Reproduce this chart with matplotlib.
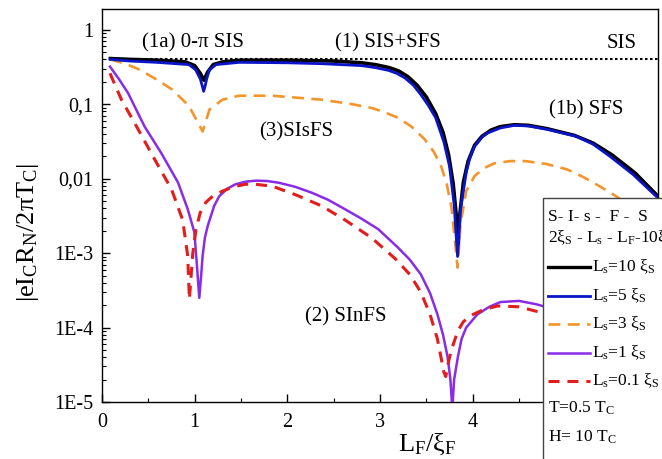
import matplotlib
matplotlib.use("Agg")
import matplotlib.pyplot as plt
from matplotlib.patches import Rectangle
from matplotlib.lines import Line2D
from matplotlib.ticker import FixedLocator, NullFormatter, LogLocator

plt.rcParams['font.family'] = ['Liberation Serif', 'DejaVu Serif']
plt.rcParams['mathtext.fontset'] = 'custom'
plt.rcParams['mathtext.rm'] = 'Liberation Serif'
plt.rcParams['mathtext.it'] = 'Liberation Serif:italic'

# ---------------- data ----------------
x_ls10 = [0.09, 0.3, 0.6, 0.9, 1.0, 1.06, 1.1, 1.14, 1.2, 1.3, 1.5, 2.0, 2.5, 2.8, 2.95, 3.1, 3.2, 3.3,
          3.4, 3.5, 3.6, 3.68, 3.74, 3.79, 3.82, 3.84, 3.86, 3.9, 3.95, 4.02, 4.1, 4.2, 4.3, 4.45, 4.6,
          4.8, 5.1, 5.3, 5.5, 5.75, 6.0]
y_ls10 = [0.41, 0.40, 0.39, 0.37, 0.33, 0.26, 0.21, 0.27, 0.34, 0.37, 0.39, 0.39, 0.38, 0.36, 0.34,
          0.31, 0.28, 0.235, 0.18, 0.125, 0.075, 0.042, 0.021, 0.0085, 0.0035, 0.001, 0.0032, 0.009,
          0.017, 0.028, 0.037, 0.045, 0.050, 0.053, 0.052, 0.047, 0.038, 0.030, 0.021, 0.012, 0.0058]

x_ls5 = [0.09, 0.3, 0.59, 0.94, 1.01, 1.06, 1.08, 1.097, 1.115, 1.13, 1.16, 1.23, 1.48, 2.0, 2.37,
         2.8, 2.95, 3.09, 3.18, 3.27, 3.36, 3.44, 3.52, 3.6, 3.69, 3.75, 3.8, 3.837, 3.87, 3.93, 3.97,
         4.02, 4.1, 4.16, 4.3, 4.45, 4.6, 4.8, 5.12, 5.3, 5.48, 5.73, 5.98]
y_ls5 = [0.40, 0.38, 0.365, 0.34, 0.29, 0.22, 0.18, 0.149, 0.18, 0.22, 0.29, 0.34, 0.365, 0.36, 0.35,
         0.33, 0.31, 0.285, 0.26, 0.225, 0.18, 0.135, 0.097, 0.066, 0.031, 0.0147, 0.0045, 0.0009,
         0.0039, 0.012, 0.019, 0.027, 0.036, 0.041, 0.048, 0.052, 0.051, 0.046, 0.037, 0.029, 0.020,
         0.0114, 0.0058]

x_ls3 = [0.09, 0.25, 0.41, 0.6, 0.76, 0.94, 1.086, 1.16, 1.30, 1.48, 1.84, 2.37, 2.7, 2.91, 3.05,
         3.19, 3.34, 3.48, 3.58, 3.66, 3.72, 3.77, 3.80, 3.837, 3.87, 3.93, 4.02, 4.12, 4.23, 4.4, 4.57,
         4.8, 5.02, 5.2, 5.37, 5.52, 5.75, 6.0]
y_ls3 = [0.40, 0.35, 0.29, 0.21, 0.157, 0.094, 0.043, 0.085, 0.115, 0.13, 0.13, 0.115, 0.10, 0.089,
         0.078, 0.066, 0.05, 0.034, 0.023, 0.0146, 0.0085, 0.0042, 0.0019, 0.00064, 0.0025, 0.0068,
         0.0108, 0.0138, 0.0160, 0.0172, 0.0172, 0.0157, 0.0133, 0.0104, 0.0079, 0.0061, 0.004, 0.0025]

x_ls1 = [0.086, 0.18, 0.28, 0.46, 0.64, 0.82, 0.925, 0.997, 1.03, 1.05, 1.07, 1.086, 1.11, 1.14, 1.21,
         1.265, 1.35, 1.44, 1.55, 1.66, 1.78, 1.91, 2.08, 2.26, 2.44, 2.62, 2.8, 2.98, 3.19, 3.32, 3.44,
         3.54, 3.62, 3.68, 3.73, 3.76, 3.78, 3.80, 3.84, 3.88, 3.93, 4.05, 4.18, 4.30, 4.50, 4.69, 5.0,
         5.5, 6.0]
y_ls1 = [0.32, 0.22, 0.142, 0.050, 0.022, 0.0089, 0.0039, 0.0019, 0.00055, 0.00025, 0.0005, 0.00092,
         0.0016, 0.0023, 0.0043, 0.0058, 0.0073, 0.0084, 0.0091, 0.0094, 0.0093, 0.0088, 0.0078, 0.0065,
         0.0052, 0.0039, 0.0029, 0.0021, 0.0012, 0.00082, 0.00052, 0.00029, 0.00015, 0.00008, 0.00004,
         0.00002, 0.000008, 0.00002, 0.00004, 0.00007, 0.0001, 0.00015, 0.00019, 0.00022, 0.000228,
         0.000205, 0.00016, 0.0001, 0.00006]

x_ls01 = [0.086, 0.21, 0.39, 0.57, 0.75, 0.87, 0.925, 0.943, 0.98, 1.015, 1.06, 1.12, 1.2, 1.30, 1.42,
          1.55, 1.66, 1.84, 2.1, 2.37, 2.62, 2.91, 3.16, 3.32, 3.44, 3.54, 3.62, 3.69, 3.71, 3.74, 3.77,
          3.84, 3.9, 3.98, 4.12, 4.27, 4.5, 4.69, 5.0, 5.5, 6.0]
y_ls01 = [0.26, 0.115, 0.046, 0.018, 0.0072, 0.0028, 0.00092, 0.00024, 0.001, 0.0021, 0.0035, 0.0048,
          0.0059, 0.0068, 0.0078, 0.0084, 0.0084, 0.0079, 0.006, 0.0043, 0.0028, 0.0016, 0.00085,
          0.00052, 0.0003, 0.00015, 0.00007, 0.000025, 0.000022, 0.000035, 0.00005, 0.00009, 0.00012,
          0.000145, 0.000175, 0.000195, 0.00019, 0.000165, 0.00013, 0.00008, 0.00005]

x_sis = [0.09, 6.0]
y_sis = [0.408, 0.408]

ytick_vals = [1, 0.1, 0.01, 1e-3, 1e-4, 1e-5]
ytick_labels = ['1', '0,1', '0,01', '1E-3', '1E-4', '1E-5']
xtick_vals = [0, 1, 2, 3, 4]

legend_labels = [r'L$_{\rm s}$=10 ξ$_{\rm S}$', r'L$_{\rm s}$=5 ξ$_{\rm S}$', r'L$_{\rm s}$=3 ξ$_{\rm S}$',
                 r'L$_{\rm s}$=1 ξ$_{\rm S}$', r'L$_{\rm s}$=0.1 ξ$_{\rm S}$']

# ---------------- figure ----------------
W, H = 662, 459
fig = plt.figure(figsize=(W / 100, H / 100), dpi=100)
ax = fig.add_axes([102 / W, 1 - 402 / H, (658 - 102) / W, (402 - 9) / H])

c_black = '#000000'
c_blue = '#0a14c8'
c_orange = '#f4952a'
c_purple = '#8a2be8'
c_red = '#e21d1d'

ax.plot(x_sis, y_sis, color='black', lw=1.5, ls=(0, (1.2, 1.2)), zorder=2)
ax.plot(x_ls10, y_ls10, color=c_black, lw=2.6, zorder=3)
ax.plot(x_ls5, y_ls5, color=c_blue, lw=2.0, zorder=4)
ax.plot(x_ls3, y_ls3, color=c_orange, lw=1.9, dashes=(4.5, 2.8), zorder=3)
ax.plot(x_ls1, y_ls1, color=c_purple, lw=1.8, zorder=3)
ax.plot(x_ls01, y_ls01, color=c_red, lw=2.2, dashes=(3.6, 2.6), zorder=3)

ax.set_yscale('log')
ax.set_xlim(0, 6)
ax.set_ylim(1e-5, 1.9)
ax.yaxis.set_major_locator(FixedLocator(ytick_vals))
ax.set_yticklabels(ytick_labels)
ax.yaxis.set_minor_locator(LogLocator(base=10, subs=range(2, 10), numticks=20))
ax.yaxis.set_minor_formatter(NullFormatter())
ax.set_xticks(xtick_vals)
ax.set_xticklabels([str(v) for v in xtick_vals])
ax.xaxis.set_minor_locator(FixedLocator([0.5, 1.5, 2.5, 3.5, 4.5, 5.5]))
ax.tick_params(axis='both', which='major', direction='in', length=6, width=1, labelsize=14.5)
ax.tick_params(axis='both', which='minor', direction='in', length=3, width=0.8)
ax.tick_params(axis='x', which='major', pad=8)
ax.tick_params(axis='y', which='major', pad=6)
for s in ax.spines.values():
    s.set_linewidth(1.0)


def ftext(px, py, s, **kw):
    fig.text(px / W, 1 - py / H, s, **kw)


# annotations
ftext(193, 43, '(1a) 0-π SIS', fontsize=15, ha='center', va='center')
ftext(388, 43, '(1) SIS+SFS', fontsize=15, ha='center', va='center')
ftext(622, 43, 'SIS', fontsize=15, ha='center', va='center')
ftext(296, 132, '(3)SIsFS', fontsize=15, ha='center', va='center')
ftext(586, 110, '(1b) SFS', fontsize=15, ha='center', va='center')
ftext(346, 317, '(2) SInFS', fontsize=15, ha='center', va='center')

# axis labels
ftext(28, 232, r'|eI$_{\rm C}$R$_{\rm N}$/2πT$_{\rm C}$|', fontsize=19, rotation=90, ha='center', va='center')
ftext(427, 444, r'L$_{\rm F}$/ξ$_{\rm F}$', fontsize=19, ha='center', va='center')

# legend box (extends past the figure edge as in the original)
rect = Rectangle((543 / W, -0.05), 0.3, 1 - 198 / H + 0.05, transform=fig.transFigure,
                 facecolor='white', edgecolor='#444444', lw=1.0, zorder=10)
fig.add_artist(rect)

ftext(548, 217, 'S- I- s -  F -  S', fontsize=12.5, ha='left', va='center', zorder=11)
ftext(548, 238, r'2ξ$_{\rm S}$ - L$_{\rm s}$ - L$_{\rm F}$-10ξ$_{\rm S}$', fontsize=12.5, ha='left',
      va='center', zorder=11)

styles = [dict(color=c_black, lw=2.4), dict(color=c_blue, lw=2.0),
          dict(color=c_orange, lw=1.9, dashes=(4.5, 2.8)), dict(color=c_purple, lw=1.8),
          dict(color=c_red, lw=2.2, dashes=(3.6, 2.6))]
rows = [267, 296, 324, 353, 381]
for lab, st, py in zip(legend_labels, styles, rows):
    ln = Line2D([548 / W, 590 / W], [1 - py / H, 1 - py / H], transform=fig.transFigure, zorder=11, **st)
    fig.add_artist(ln)
    ftext(592, py, lab, fontsize=12.5, ha='left', va='center', zorder=11)

ftext(548, 408, r'T=0.5 T$_{\rm C}$', fontsize=12.5, ha='left', va='center', zorder=11)
ftext(548, 437, r'H= 10 T$_{\rm C}$', fontsize=12.5, ha='left', va='center', zorder=11)

fig.savefig('out.png', dpi=100)
